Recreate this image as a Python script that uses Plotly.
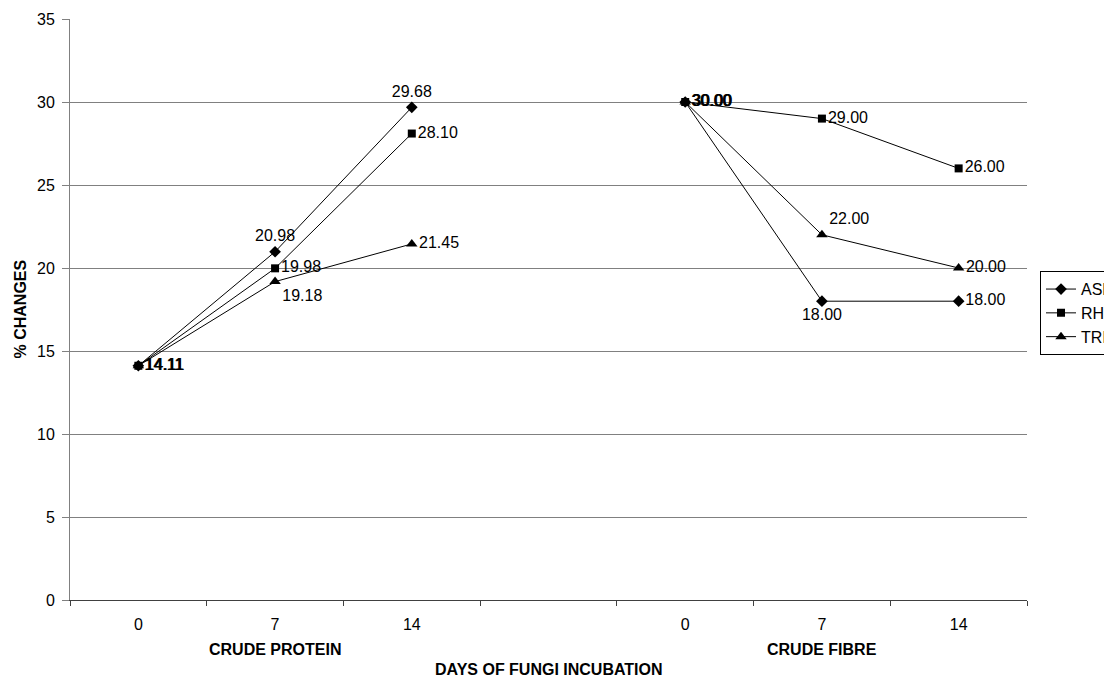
import plotly.graph_objects as go

# ---- data ----
x_labels = ["0", "7", "14", "", "0", "7", "14"]
groups = ["CRUDE PROTEIN", "CRUDE FIBRE"]
series_names = ["ASP", "RHI", "TRI"]
asp_protein = [14.11, 20.98, 29.68]
rhi_protein = [14.11, 19.98, 28.10]
tri_protein = [14.11, 19.18, 21.45]
asp_fibre = [30.00, 18.00, 18.00]
rhi_fibre = [30.00, 29.00, 26.00]
tri_fibre = [30.00, 22.00, 20.00]
y_ticks = [0, 5, 10, 15, 20, 25, 30, 35]

FONT = "Arial, Liberation Sans, sans-serif"

x_pos = list(range(len(x_labels)))  # category slots (slot 3 is the gap)

def build(prot, fib):
    return prot + [None] + fib

series = [
    dict(name=series_names[0], y=build(asp_protein, asp_fibre), symbol="diamond", size=9,
         pos=["middle right", "top center", "top center", "middle right",
              "middle right", "bottom center", "middle right"]),
    dict(name=series_names[1], y=build(rhi_protein, rhi_fibre), symbol="square", size=8,
         pos=["middle right"] * 7),
    dict(name=series_names[2], y=build(tri_protein, tri_fibre), symbol="triangle-up", size=10,
         pos=["middle right", "bottom right", "middle right", "middle right",
              "middle right", "top right", "middle right"]),
]

fig = go.Figure()
for s in series:
    fig.add_trace(go.Scatter(
        x=x_pos, y=s["y"], name=s["name"], mode="lines+markers+text",
        line=dict(color="black", width=1),
        marker=dict(symbol=s["symbol"], size=s["size"], color="black"),
        texttemplate="%{y:.2f}", textposition=s["pos"],
        textfont=dict(family=FONT, size=16, color="black"),
        connectgaps=False,
    ))

annotations = []
for gi, g in enumerate(groups):
    annotations.append(dict(
        x=1 + 4 * gi, xref="x", y=0, yref="paper", yanchor="middle",
        yshift=-49, text=f"<b>{g}</b>", showarrow=False,
        font=dict(family=FONT, size=16, color="black")))
annotations.append(dict(
    x=3, xref="x", y=0, yref="paper", yanchor="middle", yshift=-69,
    text="<b>DAYS OF FUNGI INCUBATION</b>", showarrow=False,
    font=dict(family=FONT, size=16, color="black")))
annotations.append(dict(
    x=0, xref="paper", y=0.5, yref="paper", xanchor="center", xshift=-50, textangle=-90,
    text="<b>% CHANGES</b>", showarrow=False,
    font=dict(family=FONT, size=16, color="black")))

fig.update_layout(
    width=1104, height=669,
    margin=dict(l=62, r=85, t=11, b=77, autoexpand=False),
    paper_bgcolor="white", plot_bgcolor="white",
    font=dict(family=FONT, size=16, color="black"),
    showlegend=True,
    legend=dict(x=1.0136, xanchor="left", y=0.566, yanchor="top",
                bordercolor="black", borderwidth=1, bgcolor="white",
                font=dict(family=FONT, size=16, color="black"),
                itemwidth=30, tracegroupgap=0),
    annotations=annotations,
)
fig.update_xaxes(
    range=[-0.5, 6.5], tickmode="array", tickvals=x_pos, ticktext=x_labels,
    ticks="outside", ticklen=10, tickcolor="rgba(0,0,0,0)",
    showgrid=False, zeroline=False, showline=True, linecolor="#404040", linewidth=1,
    minor=dict(tick0=-0.5, dtick=1, ticks="outside", ticklen=5, tickcolor="#404040", showgrid=False),
    tickfont=dict(family=FONT, size=16, color="black"),
)
fig.update_yaxes(
    range=[0, 35], tickmode="array", tickvals=y_ticks,
    ticks="outside", ticklen=7, tickcolor="#808080", ticklabelstandoff=4,
    showgrid=True, gridcolor="#808080", gridwidth=1, zeroline=False,
    showline=True, linecolor="#808080", linewidth=1,
    tickfont=dict(family=FONT, size=16, color="black"),
)

fig.write_html("out.html")
